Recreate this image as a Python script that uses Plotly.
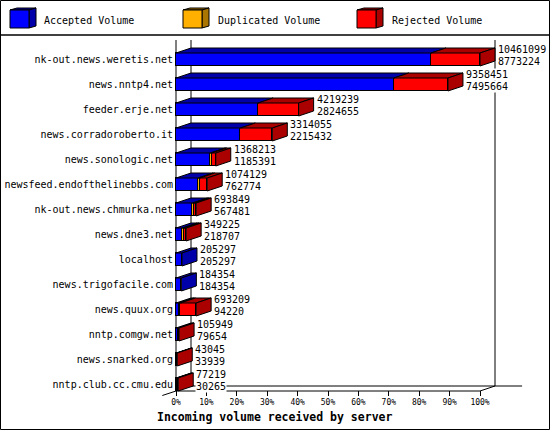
import plotly.graph_objects as go

# ---------------- data ----------------
servers = [
    "nk-out.news.weretis.net", "news.nntp4.net", "feeder.erje.net",
    "news.corradoroberto.it", "news.sonologic.net", "newsfeed.endofthelinebbs.com",
    "nk-out.news.chmurka.net", "news.dne3.net", "localhost", "news.trigofacile.com",
    "news.quux.org", "nntp.comgw.net", "news.snarked.org", "nntp.club.cc.cmu.edu",
]
total_volume = [10461099, 9358451, 4219239, 3314055, 1368213, 1074129, 693849,
                349225, 205297, 184354, 693209, 105949, 43045, 77219]
accepted_volume = [8773224, 7495664, 2824655, 2215432, 1185391, 762774, 567481,
                   218707, 205297, 184354, 94220, 79654, 33939, 30265]
# duplicated volume (thin orange slices)
duplicated_volume = [0, 0, 0, 0, 40000, 55000, 60000, 60000, 0, 0, 60000, 0, 0, 0]
x_tick_values = [0, 10, 20, 30, 40, 50, 60, 70, 80, 90, 100]
x_tick_labels = ["0%", "10%", "20%", "30%", "40%", "50%", "60%", "70%", "80%", "90%", "100%"]
series_names = ["Accepted Volume", "Duplicated Volume", "Rejected Volume"]
title_text = "Incoming volume received by server"

# ---------------- styling / geometry ----------------
W, H = 550, 430
ML, MR, MT, MB = 162, 27, 40, 34
PW, PH = W - ML - MR, H - MT - MB
PX_PER_PCT = 3.04
XMIN = -(176 - ML) / PX_PER_PCT
XMAX = XMIN + PW / PX_PER_PCT
ROW_PX = 25.0
Y_TOP = (MT - 59.5) / ROW_PX
Y_BOT = (H - MB - 59.5) / ROW_PX
DX = 15 / PX_PER_PCT      # depth in x (percent units)
DY = 5 / ROW_PX           # depth in y (row units)
HALF = 6.5 / ROW_PX       # half height of front face
FONT = "DejaVu Sans Mono"

front_colors = ["#0000FF", "#FFB000", "#FF0000"]
dark_colors = ["#0000AA", "#AA7500", "#AA0000"]

maxv = max(total_volume)
n = len(servers)
rejected_volume = [t - a - d for t, a, d in zip(total_volume, accepted_volume, duplicated_volume)]
segs = [accepted_volume, duplicated_volume, rejected_volume]
pct = [[v / maxv * 100 for v in s] for s in segs]
idx = list(range(n))

fig = go.Figure()

# front faces (stacked horizontal bars)
for k in range(3):
    fig.add_trace(go.Bar(
        x=[p if p > 0 else None for p in pct[k]], y=idx, orientation="h",
        width=2 * HALF, name=series_names[k], showlegend=False,
        marker=dict(color=front_colors[k], line=dict(color="black", width=1)),
        hoverinfo="skip",
    ))

# top faces (one trace per series)
for k in range(3):
    xs, ys = [], []
    for i in range(n):
        if pct[k][i] <= 0:
            continue
        s0 = sum(pct[j][i] for j in range(k))
        s1 = s0 + pct[k][i]
        yt = i - HALF
        xs += [s0, s1, s1 + DX, s0 + DX, s0, None]
        ys += [yt, yt, yt - DY, yt - DY, yt, None]
    fig.add_trace(go.Scatter(
        x=xs, y=ys, mode="lines", fill="toself", fillcolor=dark_colors[k],
        line=dict(color="black", width=1), showlegend=False, hoverinfo="skip",
    ))

# side faces (last non-zero series of each row)
side = {0: ([], []), 1: ([], []), 2: ([], [])}
for i in range(n):
    last = max(k for k in range(3) if pct[k][i] > 0)
    e = sum(pct[k][i] for k in range(3))
    yt, yb = i - HALF, i + HALF
    xs, ys = side[last]
    xs += [e, e + DX, e + DX, e, e, None]
    ys += [yt, yt - DY, yb - DY, yb, yt, None]
for k in range(3):
    xs, ys = side[k]
    if xs:
        fig.add_trace(go.Scatter(
            x=xs, y=ys, mode="lines", fill="toself", fillcolor=dark_colors[k],
            line=dict(color="black", width=1), showlegend=False, hoverinfo="skip",
        ))

# value labels
annotations = []
for i in range(n):
    e = sum(pct[k][i] for k in range(3)) + DX
    for txt, off in ((str(total_volume[i]), -0.40), (str(accepted_volume[i]), 0.09)):
        annotations.append(dict(
            x=e, y=i + off, xref="x", yref="y", text=txt, showarrow=False,
            xanchor="left", yanchor="middle", xshift=2, bgcolor="white", borderpad=0,
            font=dict(family=FONT, size=10, color="black"),
        ))

# axis title
def pxp(px):
    return (px - ML) / PW

def pyp(py):
    return (H - MB - py) / PH

annotations.append(dict(
    x=pxp(274.5), y=pyp(417.5), xref="paper", yref="paper", text=title_text,
    showarrow=False, xanchor="center", yanchor="middle",
    font=dict(family=FONT, size=11.5, color="black", weight="bold"),
))

# legend
legend_x = [10, 183, 357]
legend_tx = [42, 216, 390]
shapes = []
for k in range(3):
    x0 = legend_x[k]
    x1, y0, y1 = x0 + 19, 10, 28
    ddx, ddy = 7, 2
    shapes.append(dict(type="path", xref="paper", yref="paper",
                       path=f"M{pxp(x0)},{pyp(y0)} L{pxp(x1)},{pyp(y0)} L{pxp(x1+ddx)},{pyp(y0-ddy)} L{pxp(x0+ddx)},{pyp(y0-ddy)} Z",
                       fillcolor=dark_colors[k], line=dict(color="black", width=1)))
    shapes.append(dict(type="path", xref="paper", yref="paper",
                       path=f"M{pxp(x1)},{pyp(y0)} L{pxp(x1+ddx)},{pyp(y0-ddy)} L{pxp(x1+ddx)},{pyp(y1-ddy)} L{pxp(x1)},{pyp(y1)} Z",
                       fillcolor=dark_colors[k], line=dict(color="black", width=1)))
    shapes.append(dict(type="rect", xref="paper", yref="paper",
                       x0=pxp(x0), x1=pxp(x1), y0=pyp(y1), y1=pyp(y0),
                       fillcolor=front_colors[k], line=dict(color="black", width=1)))
    annotations.append(dict(
        x=pxp(legend_tx[k]), y=pyp(20), xref="paper", yref="paper", text=series_names[k],
        showarrow=False, xanchor="left", yanchor="middle",
        font=dict(family=FONT, size=10, color="black"),
    ))

# separator and border
shapes.append(dict(type="line", xref="paper", yref="paper", x0=pxp(0), x1=pxp(W),
                   y0=pyp(35), y1=pyp(35), line=dict(color="black", width=1.5)))
shapes.append(dict(type="rect", xref="paper", yref="paper", x0=pxp(0.5), x1=pxp(W - 0.5),
                   y0=pyp(H - 0.5), y1=pyp(0.5), line=dict(color="black", width=1)))

# 3D frame lines (data coords)
yf = (391 - 59.5) / ROW_PX
yb = yf - DY
frame = [
    (0, Y_TOP, 0, yf),                 # front-left axis
    (DX, Y_TOP, DX, yb),               # back-left wall
    (100 + DX, Y_TOP, 100 + DX, yb),   # back-right wall
    (0, yf, 100, yf),                  # front floor
    (DX, yb, XMAX - 0.3, yb),          # back floor
    (0, yf, XMIN + 0.1, yf + DY * 0.9),  # left depth edge
    (100, yf, 100 + DX, yb),           # right depth edge
]
for (xa, ya, xb, yb2) in frame:
    shapes.append(dict(type="line", xref="x", yref="y", x0=xa, y0=ya, x1=xb, y1=yb2,
                       layer="below", line=dict(color="black", width=1)))

fig.update_layout(
    width=W, height=H, margin=dict(l=ML, r=MR, t=MT, b=MB, autoexpand=False),
    paper_bgcolor="white", plot_bgcolor="white", barmode="stack", bargap=0,
    showlegend=False, shapes=shapes, annotations=annotations,
    xaxis=dict(range=[XMIN, XMAX], tickvals=x_tick_values, ticktext=x_tick_labels,
               ticks="inside", ticklen=5, tickcolor="black", tickwidth=1,
               showgrid=False, zeroline=False, showline=False, automargin=False,
               tickfont=dict(family=FONT, size=8, color="black")),
    yaxis=dict(range=[Y_BOT, Y_TOP], tickvals=idx, ticktext=servers,
               anchor="free", position=pxp(176), ticks="", showgrid=False,
               zeroline=False, showline=False, automargin=False, ticklabelstandoff=3,
               tickfont=dict(family=FONT, size=10, color="black")),
)

fig.write_html("out.html", config={"displayModeBar": False},
               post_script="document.body.style.margin='0';document.body.style.overflow='hidden';")
